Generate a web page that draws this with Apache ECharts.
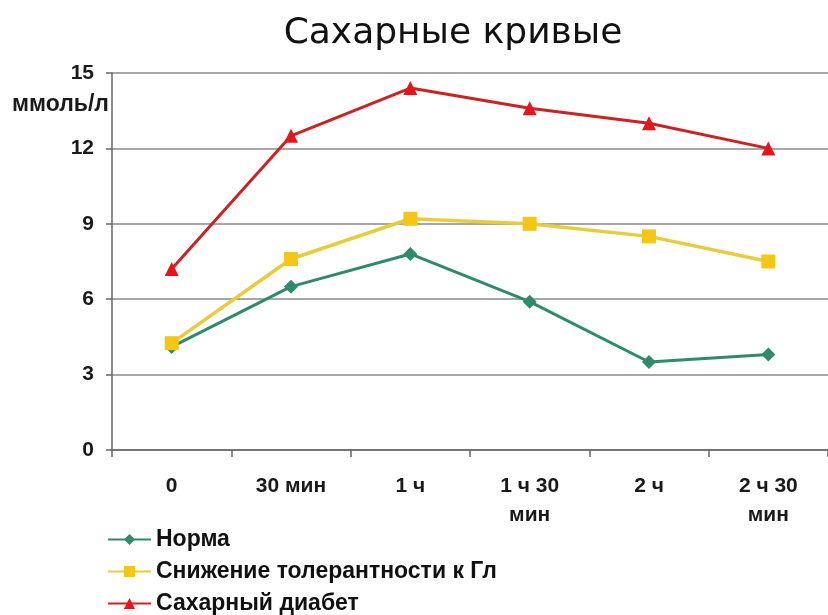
<!DOCTYPE html>
<html>
<head>
<meta charset="utf-8">
<script src="https://cdn.jsdelivr.net/npm/echarts@6/dist/echarts.min.js"></script>
<style>
  html, body { margin: 0; padding: 0; background: #ffffff; }
  #chart { width: 828px; height: 615px; }
</style>
</head>
<body>
<div id="chart"></div>
<script>
// Time points after glucose load
const categories = ['0', '30 мин', '1 ч', '1 ч 30\nмин', '2 ч', '2 ч 30\nмин'];

// Blood glucose, mmol/l
const normal = [4.1, 6.5, 7.8, 5.9, 3.5, 3.8];
const impairedTolerance = [4.25, 7.6, 9.2, 9.0, 8.5, 7.5];
const diabetes = [7.2, 12.5, 14.4, 13.6, 13.0, 12.0];

const seriesNames = ['Норма', 'Снижение толерантности к Гл', 'Сахарный диабет'];

const chart = echarts.init(document.getElementById('chart'));

chart.setOption({
  animation: false,
  backgroundColor: '#ffffff',
  title: {
    text: 'Сахарные кривые',
    left: 448,
    top: 11,
    textAlign: 'center',
    textStyle: {
      fontFamily: 'DejaVu Sans',
      fontSize: 36,
      fontWeight: 'normal',
      color: '#111111'
    }
  },
  graphic: [{
    type: 'text',
    left: 12,
    top: 93,
    style: {
      text: 'ммоль/л',
      font: 'bold 23px "Liberation Sans"',
      fill: '#1a1a1a'
    }
  }],
  grid: {
    left: 112,
    top: 73,
    width: 720,
    height: 377,
    containLabel: false
  },
  legend: {
    orient: 'vertical',
    left: 107,
    top: 528,
    height: 100,
    padding: 0,
    itemWidth: 43,
    itemHeight: 14,
    itemGap: 9,
    data: seriesNames,
    textStyle: {
      fontFamily: 'Liberation Sans',
      fontSize: 23,
      fontWeight: 'bold',
      color: '#111111'
    }
  },
  xAxis: {
    type: 'category',
    data: categories,
    boundaryGap: true,
    axisLine: { lineStyle: { color: '#666666', width: 1.5 } },
    axisTick: { show: true, length: 7, inside: false, lineStyle: { color: '#666666', width: 1.5 } },
    axisLabel: {
      margin: 22,
      fontFamily: 'Liberation Sans',
      fontSize: 21,
      fontWeight: 'bold',
      color: '#1a1a1a',
      lineHeight: 29,
      interval: 0
    },
    splitLine: { show: false }
  },
  yAxis: {
    type: 'value',
    min: 0,
    max: 15,
    interval: 3,
    axisLine: { show: true, lineStyle: { color: '#666666', width: 1.5 } },
    axisTick: { show: true, length: 6, lineStyle: { color: '#666666', width: 1.5 } },
    axisLabel: {
      margin: 18,
      fontFamily: 'Liberation Sans',
      fontSize: 21,
      fontWeight: 'bold',
      color: '#1a1a1a'
    },
    splitLine: { show: true, lineStyle: { color: '#8a8a8a', width: 1.5 } }
  },
  series: [
    {
      name: seriesNames[0],
      type: 'line',
      data: normal,
      symbol: 'diamond',
      symbolSize: 14,
      lineStyle: { color: '#2e8b6b', width: 3 },
      itemStyle: { color: '#2e8b6b' },
      z: 3
    },
    {
      name: seriesNames[1],
      type: 'line',
      data: impairedTolerance,
      symbol: 'rect',
      symbolSize: 14,
      lineStyle: { color: '#e9cc3c', width: 3.5 },
      itemStyle: { color: '#f6c615' },
      z: 4
    },
    {
      name: seriesNames[2],
      type: 'line',
      data: diabetes,
      symbol: 'triangle',
      symbolSize: 14,
      lineStyle: { color: '#cc2222', width: 3 },
      itemStyle: { color: '#e8141c' },
      z: 5
    }
  ]
});
</script>
</body>
</html>
